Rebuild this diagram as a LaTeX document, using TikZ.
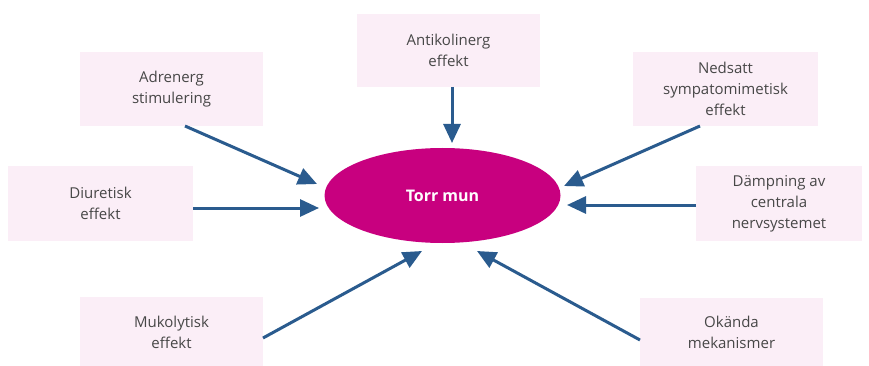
\documentclass[tikz,border=0pt]{standalone}
\usepackage{fontspec}
\setmainfont{Open Sans}
\usetikzlibrary{arrows.meta,shapes.geometric}
\definecolor{boxfill}{HTML}{FBEEF7}
\definecolor{magenta}{HTML}{C8007F}
\definecolor{arrowblue}{HTML}{2A5B8E}
\definecolor{txt}{HTML}{474747}
\begin{document}
\begin{tikzpicture}[x=1pt,y=-1pt,
  box/.style={fill=boxfill,draw=none,align=center,text=txt,font=\fontsize{15}{21}\selectfont,inner sep=0pt},
  conn/.style={draw=arrowblue,line width=3pt,-{Triangle[length=19pt,width=17pt]}}]
\useasboundingbox (0,0) rectangle (869,366);
\fill[white] (0,0) rectangle (869,366);
\node[box,minimum width=183pt,minimum height=74pt] (adr) at (171.5,89) {Adrenerg\\stimulering};
\node[box,minimum width=183pt,minimum height=73pt] (anti) at (448.5,50.5) {Antikolinerg\\effekt};
\node[box,minimum width=185pt,minimum height=74pt] (ned) at (725.5,89) {Nedsatt\\sympatomimetisk\\effekt};
\node[box,minimum width=166pt,minimum height=75pt] (damp) at (779,203.5) {Dämpning av\\centrala\\nervsystemet};
\node[box,minimum width=185pt,minimum height=75pt] (diu) at (100.5,203.5) {Diuretisk\\effekt};
\node[box,minimum width=183pt,minimum height=70pt] (muk) at (171.5,332) {Mukolytisk\\effekt};
\node[box,minimum width=183pt,minimum height=68pt] (oka) at (731.5,332) {Okända\\mekanismer};
\node[ellipse,fill=magenta,minimum width=236pt,minimum height=95pt,text=white,font=\fontsize{16}{18}\selectfont\bfseries] (torr) at (442.5,195.5) {Torr mun};
\coordinate (adrS) at (185,126);
\coordinate (adrE) at (317,184);
\coordinate (antiS) at (452,87);
\coordinate (antiE) at (452,143);
\coordinate (nedS) at (700,126);
\coordinate (nedE) at (564,186);
\coordinate (dampS) at (696,205);
\coordinate (dampE) at (567,205);
\coordinate (diuS) at (193,208);
\coordinate (diuE) at (319,208);
\coordinate (mukS) at (263,338);
\coordinate (mukE) at (422,251);
\coordinate (okaS) at (640,340);
\coordinate (okaE) at (477,251);
\draw[conn] (adrS) -- (adrE);
\draw[conn] (antiS) -- (antiE);
\draw[conn] (nedS) -- (nedE);
\draw[conn] (dampS) -- (dampE);
\draw[conn] (diuS) -- (diuE);
\draw[conn] (mukS) -- (mukE);
\draw[conn] (okaS) -- (okaE);
\end{tikzpicture}
\end{document}
